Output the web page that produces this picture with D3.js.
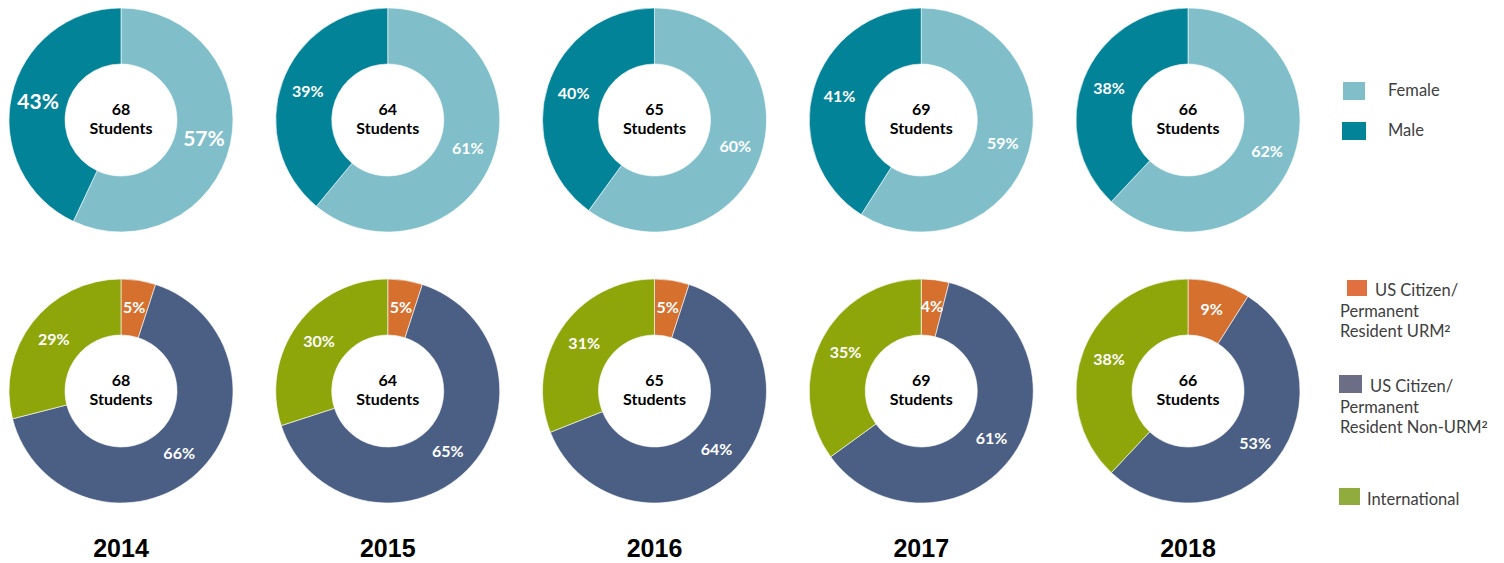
<!DOCTYPE html>
<meta charset="utf-8">
<style>
    body { margin: 0; background: #fff; }
    text { font-family: Lato, sans-serif; }
    .pct { fill: #fff; font-weight: bold; font-size: 16px; }
    .center { fill: #000; font-weight: bold; font-size: 16px; }
    .year { font-family: "Liberation Sans", Arial, sans-serif; font-weight: bold; font-size: 25px; fill: #000; }
    .legend text { fill: #404040; font-size: 16.5px; }
</style>
<svg width="1504" height="563"></svg>
<script src="https://d3js.org/d3.v7.min.js"></script>
<script>
    var years = ["2014", "2015", "2016", "2017", "2018"];
    var students = [68, 64, 65, 69, 66];

    // row 1: gender
    var female = [57, 61, 60, 59, 62];
    var male = [43, 39, 40, 41, 38];

    // row 2: citizenship
    var urm = [5, 5, 5, 4, 9];
    var nonUrm = [66, 65, 64, 61, 53];
    var intl = [29, 30, 31, 35, 38];

    var svg = d3.select("svg");

    var x = d3.scalePoint().domain(years).range([121, 1188]);
    var rowY = [120, 391];
    var outer = 112, inner = 56;

    var arc = d3.arc().innerRadius(inner).outerRadius(outer);
    var labelArc = d3.arc().innerRadius(85).outerRadius(85);
    var pie = d3.pie().sort(null).value(function (d) { return d.value; });

    var rows = [
        {
            series: [
                { name: "Female", values: female, color: "#80bfca" },
                { name: "Male", values: male, color: "#028398" }
            ]
        },
        {
            series: [
                { name: "URM", values: urm, color: "#d6702e" },
                { name: "Non-URM", values: nonUrm, color: "#4b5f85" },
                { name: "International", values: intl, color: "#8ea60a" }
            ]
        }
    ];

    rows.forEach(function (row, r) {
        years.forEach(function (year, i) {
            var data = row.series.map(function (s) {
                return { value: s.values[i], color: s.color };
            });
            var g = svg.append("g")
                .attr("transform", "translate(" + x(year) + "," + rowY[r] + ")");

            var arcs = pie(data);
            g.selectAll("path")
                .data(arcs)
                .enter().append("path")
                .attr("d", arc)
                .attr("fill", function (d) { return d.data.color; })
                .attr("stroke", "#fff")
                .attr("stroke-width", 0.6);

            var big = (r === 0 && i === 0);
            g.selectAll("text.pct")
                .data(arcs)
                .enter().append("text")
                .attr("class", "pct")
                .attr("transform", function (d) { return "translate(" + labelArc.centroid(d) + ")"; })
                .attr("text-anchor", "middle")
                .attr("dy", "0.35em")
                .style("font-size", big ? "21px" : null)
                .text(function (d) { return d.data.value + "%"; });

            g.append("text").attr("class", "center")
                .attr("text-anchor", "middle").attr("y", -11).attr("dy", "0.35em")
                .text(students[i]);
            g.append("text").attr("class", "center")
                .attr("text-anchor", "middle").attr("y", 8).attr("dy", "0.35em")
                .text("Students");
        });
    });

    svg.selectAll("text.year")
        .data(years)
        .enter().append("text")
        .attr("class", "year")
        .attr("x", function (d) { return x(d); })
        .attr("y", 557)
        .attr("text-anchor", "middle")
        .text(function (d) { return d; });

    // legends
    var leg = svg.append("g").attr("class", "legend");

    leg.append("rect").attr("x", 1343).attr("y", 82).attr("width", 22).attr("height", 18).attr("fill", "#80bfca");
    leg.append("text").attr("x", 1388).attr("y", 96).text("Female");
    leg.append("rect").attr("x", 1342).attr("y", 122).attr("width", 24).attr("height", 18).attr("fill", "#028398");
    leg.append("text").attr("x", 1388).attr("y", 136).text("Male");

    function multi(x0, y0, lines, sup) {
        var t = leg.append("text").attr("y", y0);
        lines.forEach(function (l, k) {
            t.append("tspan").attr("x", k === 0 ? l.x : x0).attr("dy", k === 0 ? 0 : 20.5).text(l.t);
        });
        t.append("tspan").style("font-size", "10px").style("font-weight", "bold").attr("dy", -5).text(sup);
    }

    leg.append("rect").attr("x", 1347).attr("y", 280).attr("width", 20).attr("height", 16).attr("fill", "#e07040");
    multi(1340, 296, [{ t: "US Citizen/", x: 1375 }, { t: "Permanent" }, { t: "Resident URM" }], "2");

    leg.append("rect").attr("x", 1339).attr("y", 375).attr("width", 23).attr("height", 18).attr("fill", "#6b6e85");
    multi(1340, 392, [{ t: "US Citizen/", x: 1370 }, { t: "Permanent" }, { t: "Resident Non-URM" }], "2");

    leg.append("rect").attr("x", 1339).attr("y", 488).attr("width", 21).attr("height", 17).attr("fill", "#8fac3c");
    leg.append("text").attr("x", 1367).attr("y", 505).text("International");
</script>
